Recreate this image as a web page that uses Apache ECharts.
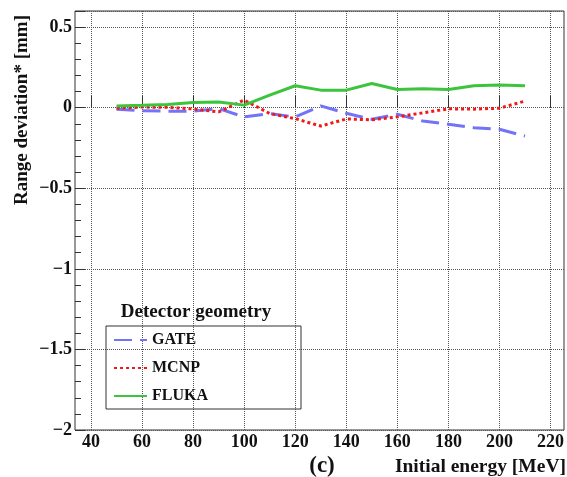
<!DOCTYPE html>
<html>
<head>
<meta charset="utf-8">
<script src="https://cdn.jsdelivr.net/npm/echarts@6/dist/echarts.min.js"></script>
<style>
  html, body { margin: 0; padding: 0; background: #fff; }
  #chart { width: 567px; height: 477px; }
</style>
</head>
<body>
<div id="chart"></div>
<script>
// initial energy [MeV]
var energy = [50, 60, 70, 80, 90, 100, 110, 120, 130, 140, 150, 160, 170, 180, 190, 200, 210];

// range deviation [mm] per code
var gate  = [-0.010, -0.019, -0.022, -0.022, -0.006, -0.057, -0.036, -0.058, 0.011, -0.035, -0.072, -0.041, -0.083, -0.103, -0.124, -0.134, -0.176];
var mcnp  = [-0.003, 0.004, 0.002, -0.008, -0.026, 0.047, -0.036, -0.068, -0.114, -0.070, -0.075, -0.057, -0.032, -0.007, -0.009, -0.003, 0.041];
var fluka = [0.011, 0.015, 0.020, 0.032, 0.036, 0.016, 0.078, 0.136, 0.109, 0.109, 0.150, 0.113, 0.118, 0.113, 0.136, 0.141, 0.136];

var seriesNames = ['GATE', 'MCNP', 'FLUKA'];

function pairs(vals) {
  var out = [];
  for (var i = 0; i < energy.length; i++) {
    out.push([energy[i], vals[i]]);
  }
  return out;
}

var serif = '"Liberation Serif", "DejaVu Serif", serif';

var chart = echarts.init(document.getElementById('chart'), null, { renderer: 'canvas' });

var option = {
  backgroundColor: '#ffffff',
  animation: false,
  grid: [
    // outer frame
    { left: 75, right: 3, top: 11, bottom: 47, show: true, borderColor: '#333', borderWidth: 1, backgroundColor: 'transparent' },
    // data area (40 .. 220)
    { left: 91, right: 16, top: 11, bottom: 47 }
  ],
  xAxis: [
    { gridIndex: 0, type: 'value', min: 33.85, max: 225.6, show: false },
    {
      gridIndex: 1, type: 'value', min: 40, max: 220, interval: 20,
      axisLine: { show: false },
      axisTick: { show: true, inside: true, length: 12, lineStyle: { color: '#333' } },
      axisLabel: { margin: 3, color: '#111', fontFamily: serif, fontWeight: 'bold', fontSize: 18 },
      splitLine: { show: true, lineStyle: { type: 'dotted', color: '#555', width: 1 } }
    }
  ],
  yAxis: [
    {
      gridIndex: 0, type: 'value', min: -2, max: 0.6, interval: 0.5,
      axisLine: { show: false },
      axisTick: { show: true, inside: true, length: 10, lineStyle: { color: '#333' } },
      axisLabel: {
        margin: 3, color: '#111', fontFamily: serif, fontWeight: 'bold', fontSize: 18,
        formatter: function (v) {
          if (Math.abs(v - 0.6) < 1e-6) return '';
          if (v === 0) return '0';
          return (v < 0 ? '\u2212' : '') + Math.abs(v);
        }
      },
      splitLine: { show: true, lineStyle: { type: 'dotted', color: '#555', width: 1 } }
    },
    {
      // minor ticks every 0.1
      gridIndex: 0, type: 'value', min: -2, max: 0.6, interval: 0.1, position: 'left',
      axisLine: { show: false },
      axisTick: { show: true, inside: true, length: 6, lineStyle: { color: '#333' } },
      axisLabel: { show: false },
      splitLine: { show: false }
    },
    { gridIndex: 1, type: 'value', min: -2, max: 0.6, show: false }
  ],
  legend: {
    orient: 'vertical',
    left: 106,
    top: 326,
    padding: [6, 93, 5, 7],
    itemWidth: 33,
    itemHeight: 14,
    itemGap: 12,
    borderColor: '#333',
    borderWidth: 1,
    selectedMode: false,
    data: seriesNames,
    itemStyle: { opacity: 0 },
    textStyle: { fontFamily: serif, fontWeight: 'bold', fontSize: 16, color: '#111' }
  },
  graphic: [
    {
      type: 'text', x: 22, y: 110, rotation: Math.PI / 2,
      style: { text: 'Range deviation* [mm]', font: 'bold 19px ' + serif, fill: '#111', align: 'center', verticalAlign: 'middle' }
    },
    {
      type: 'text', x: 566, y: 467,
      style: { text: 'Initial energy [MeV]', font: 'bold 19.5px ' + serif, fill: '#111', align: 'right', verticalAlign: 'middle' }
    },
    {
      type: 'text', x: 322, y: 466,
      style: { text: '(c)', font: 'bold 23px ' + serif, fill: '#111', align: 'center', verticalAlign: 'middle' }
    },
    {
      type: 'text', x: 196, y: 312,
      style: { text: 'Detector geometry', font: 'bold 19px ' + serif, fill: '#111', align: 'center', verticalAlign: 'middle' }
    }
  ],
  series: [
    {
      name: 'GATE', type: 'line', xAxisIndex: 1, yAxisIndex: 2,
      data: pairs(gate), symbol: 'none', smooth: false,
      lineStyle: { color: '#7373f7', width: 3, type: [18, 8] },
      itemStyle: { color: '#7373f7' }
    },
    {
      name: 'MCNP', type: 'line', xAxisIndex: 1, yAxisIndex: 2,
      data: pairs(mcnp), symbol: 'none',
      lineStyle: { color: '#f01818', width: 3, type: [3, 3] },
      itemStyle: { color: '#f01818' }
    },
    {
      name: 'FLUKA', type: 'line', xAxisIndex: 1, yAxisIndex: 2,
      data: pairs(fluka), symbol: 'none',
      lineStyle: { color: '#3cc43c', width: 3 },
      itemStyle: { color: '#3cc43c' }
    }
  ]
};

chart.setOption(option);
</script>
</body>
</html>
